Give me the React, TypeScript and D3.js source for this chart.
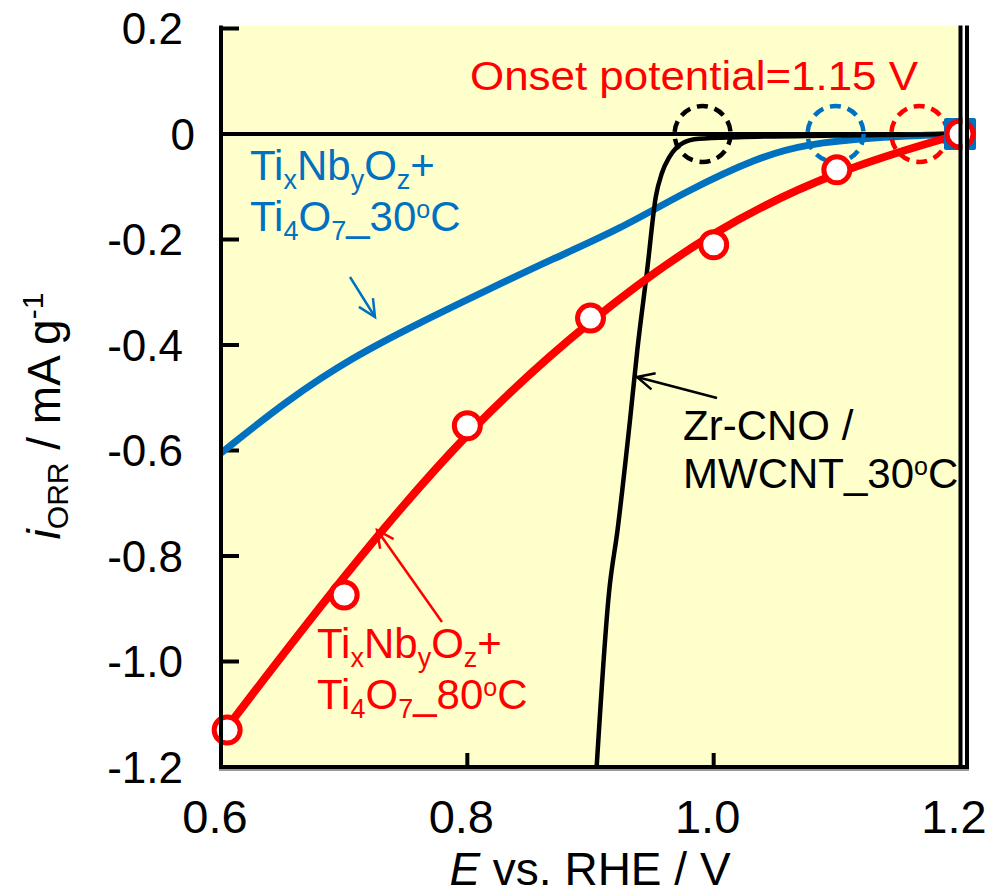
import React from "react";
import * as d3 from "d3";

// axis ticks
const xTicks = [0.6, 0.8, 1.0, 1.2];
const xTickLabels = ["0.6", "0.8", "1.0", "1.2"];
const yTicks = [0.2, 0, -0.2, -0.4, -0.6, -0.8, -1.0, -1.2];
const yTickLabels = ["0.2", "0", "-0.2", "-0.4", "-0.6", "-0.8", "-1.0", "-1.2"];

// TixNbyOz+Ti4O7 at 80 C (red), fitted line
const redE = [0.6, 0.7, 0.8, 0.9, 1.0, 1.1, 1.2];
const redI = [-1.14, -0.835, -0.56, -0.35, -0.18, -0.068, 0];
// red measured points
const redPtE = [0.605, 0.7, 0.8, 0.9, 1.0, 1.1, 1.2];
const redPtI = [-1.13, -0.874, -0.553, -0.349, -0.21, -0.068, 0];

// TixNbyOz+Ti4O7 at 30 C (blue)
const blueE = [0.6, 0.654, 0.707, 0.761, 0.816, 0.869, 0.924, 0.978, 1.035, 1.075, 1.13, 1.2];
const blueI = [-0.605, -0.504, -0.423, -0.358, -0.296, -0.237, -0.18, -0.108, -0.045, -0.019, -0.006, 0];

// Zr-CNO / MWCNT at 30 C (black)
const blackE = [0.905, 0.915, 0.922, 0.932, 0.938, 0.946, 0.953, 0.958, 0.964, 0.975, 0.988, 1.02, 1.1, 1.2];
const blackI = [-1.2, -0.87, -0.75, -0.544, -0.41, -0.258, -0.119, -0.074, -0.044, -0.017, -0.009, -0.006, -0.003, 0];

// onset potential markers (dashed circles)
const onsetE = [0.991, 1.099, 1.167];
const onsetColors = ["#000000", "#0070C0", "#FF0000"];

const RED = "#FF0000";
const BLUE = "#0070C0";
const FONT = "'Liberation Sans', Arial, sans-serif";

const left = 221, right = 960, top = 28.5, bottom = 767;
const x = d3.scaleLinear().domain([0.6, 1.2]).range([left, right]);
const y = d3.scaleLinear().domain([0.2, -1.2]).range([top, bottom]);

const smooth = d3.line<[number, number]>()
  .x(d => x(d[0]))
  .y(d => y(d[1]))
  .curve(d3.curveBasis);
const line = d3.line<[number, number]>()
  .x(d => x(d[0]))
  .y(d => y(d[1]))
  .curve(d3.curveMonotoneX);

const zip = (a: number[], b: number[]) => a.map((v, i) => [v, b[i]] as [number, number]);

function Arrow({ x1, y1, x2, y2, color, w }: any) {
  const ang = Math.atan2(y2 - y1, x2 - x1);
  const len = 19, spread = 0.45;
  const a1 = [x2 - len * Math.cos(ang - spread), y2 - len * Math.sin(ang - spread)];
  const a2 = [x2 - len * Math.cos(ang + spread), y2 - len * Math.sin(ang + spread)];
  return (
    <g stroke={color} strokeWidth={w} fill="none">
      <line x1={x1} y1={y1} x2={x2} y2={y2} />
      <polyline points={`${a1[0]},${a1[1]} ${x2},${y2} ${a2[0]},${a2[1]}`} />
    </g>
  );
}

function Label({ px, py, color, temp }: any) {
  return (
    <text x={px} y={py} fill={color} fontSize={42} fontFamily={FONT}>
      <tspan>Ti</tspan>
      <tspan fontSize={27} dy={9}>x</tspan>
      <tspan dy={-9}>Nb</tspan>
      <tspan fontSize={27} dy={9}>y</tspan>
      <tspan dy={-9}>O</tspan>
      <tspan fontSize={27} dy={9}>z</tspan>
      <tspan dy={-9}>+</tspan>
      <tspan x={px} dy={51}>Ti</tspan>
      <tspan fontSize={27} dy={9}>4</tspan>
      <tspan dy={-9}>O</tspan>
      <tspan fontSize={27} dy={9}>7</tspan>
      <tspan dy={-9}>_{temp}</tspan>
      <tspan fontSize={25} dy={-13}>o</tspan>
      <tspan dy={13}>C</tspan>
    </text>
  );
}

export default function App() {
  return (
    <svg width={989} height={894} style={{ position: "absolute", left: 0, top: 0, background: "#fff" }}>
      <defs>
        <clipPath id="plot">
          <rect x={left - 5} y={top - 4} width={right - left + 5} height={bottom - top + 4} />
        </clipPath>
      </defs>
      <rect x={left} y={top - 3} width={right - left} height={bottom - top + 3} fill="#FFFFCC" />

      {/* ticks */}
      {yTicks.map(t => (
        <line key={"yt" + t} x1={left} x2={left + 18} y1={y(t)} y2={y(t)} stroke="#000" strokeWidth={4} />
      ))}
      {xTicks.slice(1, 3).map(t => (
        <line key={"xt" + t} x1={x(t)} x2={x(t)} y1={bottom} y2={bottom - 14} stroke="#000" strokeWidth={4} />
      ))}

      {/* zero line */}
      <line x1={left} x2={right} y1={y(0)} y2={y(0)} stroke="#000" strokeWidth={4} />

      <g clipPath="url(#plot)" fill="none" strokeLinecap="butt">
        <path d={smooth(zip(blueE, blueI)) || ""} stroke={BLUE} strokeWidth={7} />
        <path d={line(zip(blackE, blackI)) || ""} stroke="#000" strokeWidth={4.5} />
        <path d={smooth(zip(redE, redI)) || ""} stroke={RED} strokeWidth={8} />
      </g>

      {/* onset markers */}
      {onsetE.map((e, i) => (
        <circle key={"on" + i} cx={x(e)} cy={y(0)} r={28} fill="none" stroke={onsetColors[i]} strokeWidth={4.5} strokeDasharray="11 7" />
      ))}

      <rect x={x(1.2) - 16} y={y(0) - 16} width={32} height={32} rx={2} fill={BLUE} />
      {redPtE.map((e, i) => (
        <circle key={"rp" + i} cx={x(e)} cy={y(redPtI[i])} r={13} fill="#fff" stroke={RED} strokeWidth={5} />
      ))}

      {/* annotations */}
      <text x={470} y={90} fill={RED} fontSize={41} fontFamily={FONT} textLength={448} lengthAdjust="spacingAndGlyphs">Onset potential=1.15 V</text>
      <Label px={250} py={180} color={BLUE} temp="30" />
      <Label px={317} py={658} color={RED} temp="80" />
      <text x={683} y={440} fill="#000" fontSize={42} fontFamily={FONT}>
        <tspan>Zr-CNO /</tspan>
        <tspan x={683} dy={48}>MWCNT_30</tspan>
        <tspan fontSize={25} dy={-13}>o</tspan>
        <tspan dy={13}>C</tspan>
      </text>
      <Arrow x1={350} y1={277} x2={375} y2={317} color={BLUE} w={2.5} />
      <Arrow x1={442} y1={622} x2={377} y2={530} color={RED} w={2.5} />
      <Arrow x1={717} y1={398} x2={637} y2={377} color="#000" w={2.5} />

      {/* frame */}
      <line x1={left} x2={left} y1={top - 3} y2={bottom + 2} stroke="#000" strokeWidth={4} />
      <rect x={962.5} y={top - 3} width={3} height={bottom - top + 5} fill="#fff" />
      <line x1={960.5} x2={960.5} y1={top - 3} y2={bottom + 2} stroke="#000" strokeWidth={4} />
      <line x1={967} x2={967} y1={top - 3} y2={bottom + 2} stroke="#000" strokeWidth={4} />
      <line x1={left - 2} x2={969} y1={bottom + 3} y2={bottom + 3} stroke="#999" strokeWidth={2} />
      <line x1={left - 2} x2={969} y1={bottom} y2={bottom} stroke="#000" strokeWidth={4} />

      {/* tick labels */}
      {yTicks.map((t, i) => (
        <text key={"yl" + t} x={yTickLabels[i] === "0" ? 195 : 183} y={y(t)} dy="0.36em" textAnchor="end" fontSize={44} fontFamily={FONT}>
          {yTickLabels[i]}
        </text>
      ))}
      {xTicks.map((t, i) => (
        <text key={"xl" + t} x={x(t) - 6} y={833} textAnchor="middle" fontSize={47} fontFamily={FONT}>
          {xTickLabels[i]}
        </text>
      ))}

      {/* axis titles */}
      <text x={590} y={885} textAnchor="middle" fontSize={46} fontFamily={FONT}>
        <tspan fontStyle="italic">E</tspan>
        <tspan> vs. RHE / V</tspan>
      </text>
      <text transform={`translate(60, 416) rotate(-90)`} textAnchor="middle" fontSize={46} fontFamily={FONT}>
        <tspan fontStyle="italic">i</tspan>
        <tspan fontSize={30} dy={8}>ORR</tspan>
        <tspan dy={-8}> / mA g</tspan>
        <tspan fontSize={30} dy={-17}>-1</tspan>
      </text>
    </svg>
  );
}
